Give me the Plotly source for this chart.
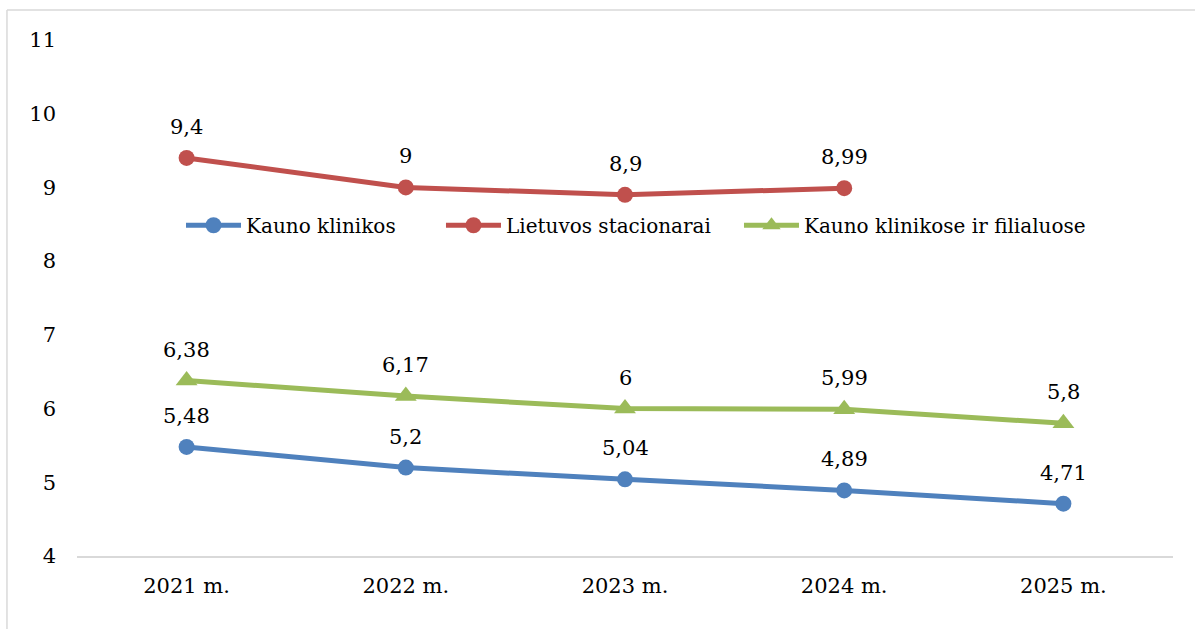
import plotly.graph_objects as go

categories = ["2021 m.", "2022 m.", "2023 m.", "2024 m.", "2025 m."]
kauno_klinikos = [5.48, 5.2, 5.04, 4.89, 4.71]
lietuvos_stacionarai = [9.4, 9, 8.9, 8.99, None]
kauno_filialuose = [6.38, 6.17, 6, 5.99, 5.8]
y_ticks = [4, 5, 6, 7, 8, 9, 10, 11]

FONT = "DejaVu Serif"

series = [
    ("Kauno klinikos", kauno_klinikos, "#4F81BD", "circle", 16, "legend"),
    ("Lietuvos stacionarai", lietuvos_stacionarai, "#C0504D", "circle", 16, "legend2"),
    ("Kauno klinikose ir filialuose", kauno_filialuose, "#9BBB59", "triangle-up", 19, "legend3"),
]
legend_x = [0.0949, 0.3321, 0.604]

fig = go.Figure()
annotations = []
for name, vals, color, sym, msize, leg in series:
    xs = [c for c, v in zip(categories, vals) if v is not None]
    ys = [v for v in vals if v is not None]
    fig.add_trace(go.Scatter(
        x=xs, y=ys, name=name, mode="lines+markers",
        line=dict(color=color, width=5),
        marker=dict(color=color, symbol=sym, size=msize),
        legend=leg,
    ))
    for c, v in zip(xs, ys):
        annotations.append(dict(
            x=c, y=v, xref="x", yref="y", text=("%g" % v).replace(".", ","),
            showarrow=False, yshift=31, font=dict(family=FONT, size=21, color="#000"),
        ))

def leg(x):
    return dict(orientation="h", x=x, y=0.641, xanchor="left", yanchor="middle",
                font=dict(family=FONT, size=20, color="#000"), bgcolor="rgba(0,0,0,0)",
                itemwidth=55)

fig.update_layout(
    width=1195, height=629,
    margin=dict(l=77, r=22, t=40, b=73),
    paper_bgcolor="white", plot_bgcolor="white",
    font=dict(family=FONT, size=21, color="#000"),
    separators=", ",
    showlegend=True,
    legend=leg(legend_x[0]), legend2=leg(legend_x[1]), legend3=leg(legend_x[2]),
    annotations=annotations,
    shapes=[
        dict(type="line", xref="paper", yref="paper", x0=-0.0639, x1=1.2, y0=1.0581, y1=1.0581,
             line=dict(color="#D9D9D9", width=1.5)),
        dict(type="line", xref="paper", yref="paper", x0=-0.0639, x1=-0.0639, y0=1.0581, y1=-0.3,
             line=dict(color="#D9D9D9", width=1.5)),
    ],
)
fig.update_xaxes(type="category", categoryorder="array", categoryarray=categories,
                 range=[-0.5, 4.5], showgrid=False, showline=True, linecolor="#D9D9D9",
                 linewidth=2, ticks="", ticklabelstandoff=10, zeroline=False)
fig.update_yaxes(range=[4, 11], tickvals=y_ticks, showgrid=False, showline=False,
                 ticks="", ticklabelstandoff=20, zeroline=False)

fig.write_html("out.html", config={"displayModeBar": False},
               post_script="document.body.style.margin='0';document.body.style.padding='0';")
